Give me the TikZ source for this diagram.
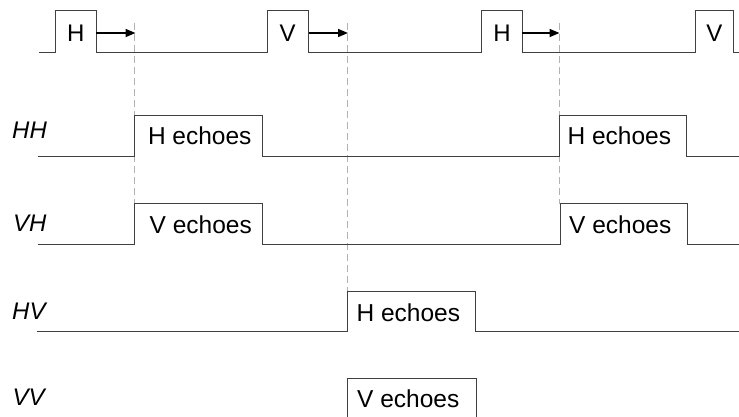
\documentclass[tikz,border=0pt]{standalone}
\usepackage{fontspec}
\setmainfont{Liberation Sans}
\usetikzlibrary{arrows.meta}
\begin{document}
\begin{tikzpicture}[x=1pt,y=-1pt,
  sig/.style={draw=black!75,line width=1pt},
  guide/.style={draw=black!30,line width=1pt,dash pattern=on 7pt off 4pt},
  txt/.style={inner sep=0pt,anchor=base west,font=\fontsize{24.5}{28}\selectfont},
  pulsetxt/.style={inner sep=0pt,anchor=base,font=\fontsize{24}{28}\selectfont},
  lab/.style={inner sep=0pt,anchor=base west,font=\fontsize{24}{28}\selectfont\itshape},
  ptr/.style={draw=black,line width=1.5pt,-{Triangle[length=10pt,width=8pt]}}]
\useasboundingbox (0,0) rectangle (739,417);

% guide lines
\coordinate (g1t) at (134.5,23); \coordinate (g1b) at (134.5,204);
\coordinate (g2t) at (347.5,23); \coordinate (g2b) at (347.5,292);
\coordinate (g3t) at (559,23);   \coordinate (g3b) at (559,204);
\draw[guide] (g1t) -- (g1b);
\draw[guide] (g2t) -- (g2b);
\draw[guide] (g3t) -- (g3b);

% transmit pulses
\draw[sig] (39,52.3) -- (55.5,52.3) -- (55.5,10.5) -- (96,10.5) -- (96,52.3)
  -- (267,52.3) -- (267,10.5) -- (308.5,10.5) -- (308.5,52.3)
  -- (481.7,52.3) -- (481.7,10.5) -- (522.3,10.5) -- (522.3,52.3)
  -- (695.7,52.3) -- (695.7,10.5) -- (733.3,10.5) -- (733.3,52.3) -- (739,52.3);
\node[pulsetxt] (p1) at (75.8,41.3) {H};
\node[pulsetxt] (p2) at (287.6,41.3) {V};
\node[pulsetxt] (p3) at (502.1,41.3) {H};
\node[pulsetxt] (p4) at (714.3,41.3) {V};

\coordinate (a1s) at (96,33);    \coordinate (a1e) at (135.5,33);
\coordinate (a2s) at (308.5,33); \coordinate (a2e) at (348,33);
\coordinate (a3s) at (522.3,33); \coordinate (a3e) at (559.5,33);
\draw[ptr] (a1s) -- (a1e);
\draw[ptr] (a2s) -- (a2e);
\draw[ptr] (a3s) -- (a3e);

% HH
\node[lab] (lHH) at (12,139) {HH};
\draw[sig] (38,156.3) -- (134.5,156.3) -- (134.5,115.7) -- (262.5,115.7) -- (262.5,156.3)
  -- (559,156.3) -- (559,115.7) -- (686.7,115.7) -- (686.7,156.3) -- (739,156.3);
\node[txt] (hh1) at (147.8,144.3) {H echoes};
\node[txt] (hh2) at (567.4,144.3) {H echoes};

% VH
\node[lab] (lVH) at (13,231.7) {VH};
\draw[sig] (37.5,244) -- (134.5,244) -- (134.5,203.7) -- (262.5,203.7) -- (262.5,244)
  -- (560,244) -- (560,203.7) -- (687.7,203.7) -- (687.7,244) -- (739,244);
\node[txt] (vh1) at (149.5,233.3) {V echoes};
\node[txt] (vh2) at (569,233.3) {V echoes};

% HV
\node[lab] (lHV) at (12,319.3) {HV};
\draw[sig] (37,331) -- (347.3,331) -- (347.3,291.7) -- (475.3,291.7) -- (475.3,331) -- (739,331);
\node[txt] (hv1) at (356.4,321) {H echoes};

% VV
\node[lab] (lVV) at (12.5,405.3) {VV};
\draw[sig] (347.3,417) -- (347.3,378.3) -- (476,378.3) -- (476,417);
\node[txt] (vv1) at (357,407.7) {V echoes};
\end{tikzpicture}
\end{document}
